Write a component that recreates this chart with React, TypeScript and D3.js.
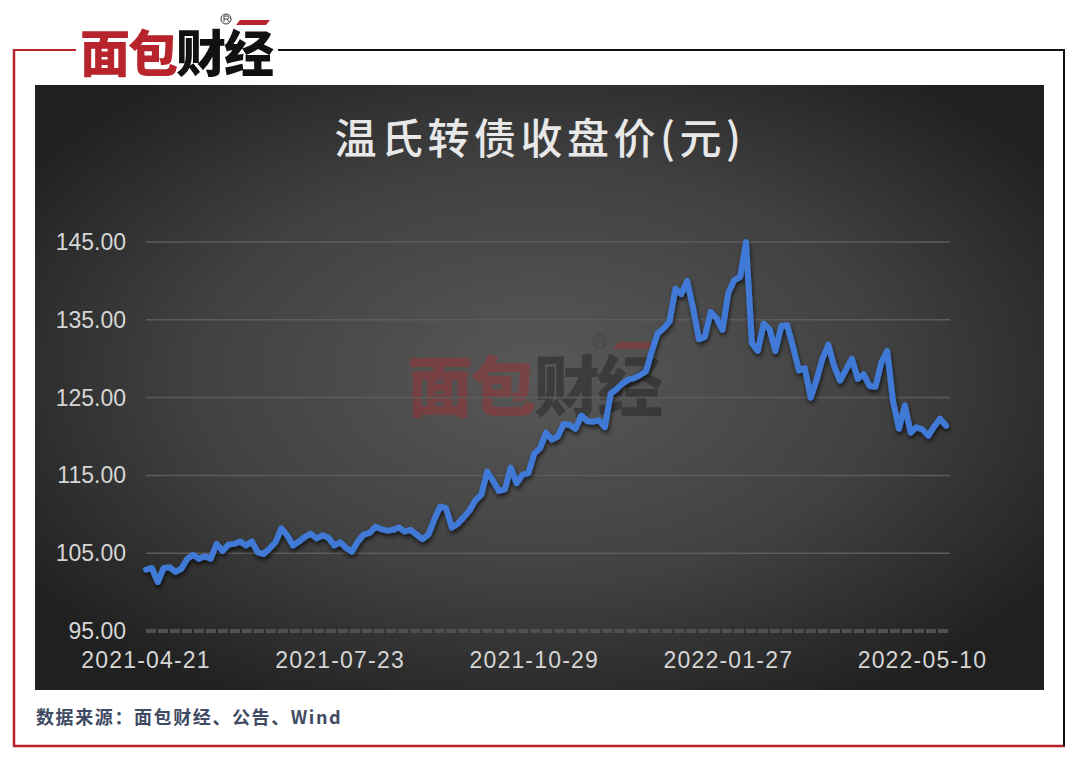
import React from "react";
import * as d3 from "d3";

const dateLabels = ["2021-04-21", "2021-07-23", "2021-10-29", "2022-01-27", "2022-05-10"];
const dateLabelIndex = [0, 33, 66, 99, 132];
const yTicks = [95, 105, 115, 125, 135, 145];

// closing price of 温氏转债, one value every second trading day
const closePrice = [
  102.9, 103.1, 101.3, 103.1, 103.2, 102.6, 103.0, 104.3, 104.8, 104.3,
  104.6, 104.3, 106.2, 105.3, 106.1, 106.2, 106.5, 106.0, 106.5, 105.1,
  104.9, 105.6, 106.4, 108.2, 107.3, 106.0, 106.5, 107.1, 107.5, 106.9,
  107.3, 107.0, 106.0, 106.4, 105.7, 105.2, 106.5, 107.4, 107.6, 108.4,
  108.1, 107.9, 108.0, 108.3, 107.8, 108.0, 107.4, 106.8, 107.4, 109.3,
  111.0, 110.8, 108.3, 108.8, 109.6, 110.5, 111.8, 112.5, 115.5, 114.3,
  113.0, 113.2, 116.0, 114.0, 115.1, 115.3, 117.8, 118.5, 120.5, 119.6,
  120.0, 121.6, 121.5, 121.0, 122.7, 122.0, 121.9, 122.1, 121.2, 125.5,
  126.1, 126.8, 127.3, 127.5, 127.9, 128.4, 131.0, 133.3, 133.9, 134.8,
  139.0, 138.3, 140.0, 136.5, 132.5, 132.8, 136.0, 135.2, 133.7, 138.5,
  140.1, 140.5, 145.0, 132.0, 131.0, 134.5, 133.8, 131.0, 134.2, 134.3,
  131.5, 128.5, 128.8, 125.0, 127.3, 130.0, 131.8, 129.0, 127.2, 128.6,
  130.0, 127.4, 128.0, 126.5, 126.4, 129.5, 131.0, 124.5, 121.0, 124.0,
  120.5, 121.2, 120.9, 120.1, 121.3, 122.3, 121.4,
];

const RED = "#b8242b";

function Logo({ x, y, size, opacity = 1 }: { x: number; y: number; size: number; opacity?: number }) {
  const s = size / 50;
  return (
    <g transform={`translate(${x},${y}) scale(${s})`} opacity={opacity}>
      <text
        x={0}
        y={0}
        fontFamily="'Noto Sans CJK SC'"
        fontWeight={900}
        fontSize={50}
        letterSpacing={-2}
      >
        <tspan fill={RED}>面包</tspan>
        <tspan fill="#111">财经</tspan>
      </text>
      <polygon points="160,-52 190,-52 186,-47 156,-47" fill={RED} />
      {/* registered mark drawn as shapes */}
      <circle cx={146} cy={-53} r={5} fill="none" stroke="#333" strokeWidth={1} />
      <path d="M144,-50 V-56 H147 Q149,-56 149,-54.5 Q149,-53 147,-53 H144 M147,-53 L149,-50" fill="none" stroke="#333" strokeWidth={0.9} />
    </g>
  );
}

export default function App() {
  const W = 1080;
  const H = 762;
  const x = d3.scaleLinear().domain([0, closePrice.length - 1]).range([146, 946]);
  const y = d3.scaleLinear().domain([95, 145]).range([631, 242]);
  const line = d3
    .line<number>()
    .x((_, i) => x(i))
    .y((d) => y(d))
    .curve(d3.curveLinear);

  return (
    <svg
      width={W}
      height={H}
      style={{ position: "absolute", left: 0, top: 0, background: "#fff" }}
    >
      <defs>
        <radialGradient id="bg" cx="50%" cy="48%" r="62%">
          <stop offset="0%" stopColor="#585858" />
          <stop offset="55%" stopColor="#414141" />
          <stop offset="100%" stopColor="#202020" />
        </radialGradient>
        <filter id="shadow" x="-5%" y="-5%" width="110%" height="120%">
          <feDropShadow dx={1} dy={3} stdDeviation={2} floodColor="#000" floodOpacity={0.65} />
        </filter>
      </defs>

      {/* frame */}
      <line x1={14} y1={50} x2={76} y2={50} stroke={RED} strokeWidth={2} />
      <line x1={14} y1={49} x2={14} y2={746} stroke={RED} strokeWidth={2.5} />
      <line x1={13} y1={746} x2={1065} y2={746} stroke={RED} strokeWidth={2.5} />
      <line x1={278} y1={50} x2={1064} y2={50} stroke="#111" strokeWidth={2} />
      <line x1={1064} y1={49} x2={1064} y2={746} stroke="#111" strokeWidth={2} />

      <Logo x={80} y={72} size={50} />

      {/* panel */}
      <rect x={35} y={85} width={1009} height={605} fill="url(#bg)" />

      <text
        x={540}
        y={154}
        textAnchor="middle"
        fontFamily="'Noto Sans CJK SC'"
        fontWeight={500}
        fontSize={42}
        letterSpacing={4.5}
        fill="#e8e8e8"
      >
        温氏转债收盘价(元)
      </text>

      {/* watermark */}
      <Logo x={407} y={411} size={66} opacity={0.36} />

      {/* grid */}
      {yTicks.map((t) =>
        t === 95 ? (
          <line
            key={t}
            x1={146}
            x2={950}
            y1={y(t)}
            y2={y(t)}
            stroke="#505050"
            strokeWidth={4}
            strokeDasharray="10,2"
          />
        ) : (
          <line key={t} x1={146} x2={950} y1={y(t)} y2={y(t)} stroke="#5c5c5c" strokeWidth={1.5} />
        )
      )}

      {yTicks.map((t) => (
        <text
          key={"l" + t}
          x={126}
          y={y(t) + 8}
          textAnchor="end"
          fontFamily="'Liberation Sans', Arial"
          fontSize={23}
          fill="#d6d6d6"
        >
          {t.toFixed(2)}
        </text>
      ))}

      {dateLabels.map((d, k) => (
        <text
          key={d}
          x={x(dateLabelIndex[k])}
          y={668}
          textAnchor="middle"
          fontFamily="'Liberation Sans', Arial"
          fontSize={23}
          letterSpacing={1.2}
          fill="#d6d6d6"
        >
          {d}
        </text>
      ))}

      <path
        d={line(closePrice) || ""}
        fill="none"
        stroke="#3f7ad6"
        strokeWidth={6}
        strokeLinejoin="round"
        strokeLinecap="round"
        filter="url(#shadow)"
      />

      <text
        x={36}
        y={724}
        fontFamily="'Noto Sans CJK SC'"
        fontWeight={700}
        fontSize={18}
        letterSpacing={1.6}
        fill="#404b63"
      >
        数据来源：面包财经、公告、Wind
      </text>
    </svg>
  );
}
